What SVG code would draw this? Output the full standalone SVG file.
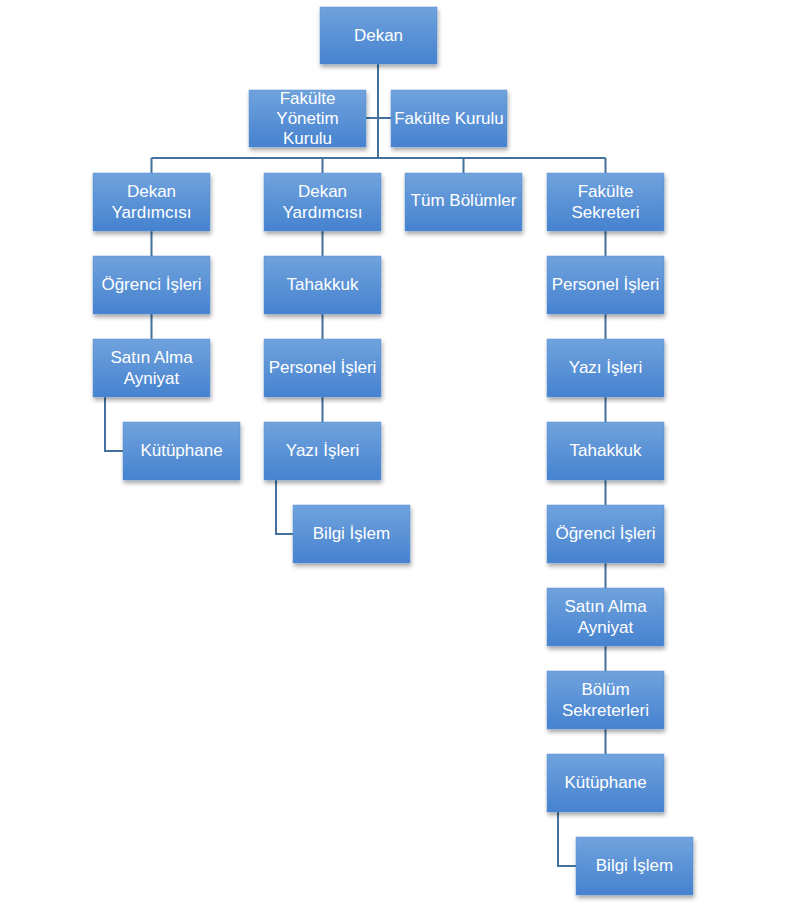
<svg xmlns="http://www.w3.org/2000/svg" width="795" height="907" viewBox="0 0 795 907">
<defs>
<linearGradient id="g" x1="0" y1="0" x2="0" y2="1">
<stop offset="0" stop-color="#70a3dd"/>
<stop offset="1" stop-color="#4682cf"/>
</linearGradient>
<filter id="sh" x="-10%" y="-10%" width="125%" height="135%">
<feDropShadow dx="1" dy="3" stdDeviation="2" flood-color="#000" flood-opacity="0.35"/>
</filter>
</defs>
<style>
.b{fill:url(#g);stroke:#5b8fd2;stroke-width:0.5;filter:url(#sh)}
.t{fill:#fff;font-family:"Liberation Sans",Arial,sans-serif;font-size:17px;text-anchor:middle}
.c{fill:none;stroke:#41719c;stroke-width:2}
</style>
<rect width="795" height="907" fill="#fff"/>
<g id="connectors">
<path class="c" d="M378 64V158M151.5 158H605.5M366 118H391"/>
<path class="c" d="M151.5 158V339M322.5 158V422M463.5 158V173M605.5 158V754"/>
<path class="c" d="M105 397V451H123M276 480V534H293M558 812V866H576"/>
</g>
<g id="dekan"><rect class="b" x="320" y="7" width="117" height="57"/><text class="t" x="378.5" y="41">Dekan</text></g>
<g id="fyk"><rect class="b" x="249" y="90" width="117" height="57"/><text class="t" x="307.5" y="104">Fakülte</text><text class="t" x="307.5" y="124">Yönetim</text><text class="t" x="307.5" y="144">Kurulu</text></g>
<g id="fk"><rect class="b" x="391" y="90" width="116" height="57"/><text class="t" x="449" y="124">Fakülte Kurulu</text></g>

<g id="dy1"><rect class="b" x="93" y="173" width="117" height="58"/><text class="t" x="151.5" y="197">Dekan</text><text class="t" x="151.5" y="218">Yardımcısı</text></g>
<g id="oi1"><rect class="b" x="93" y="256" width="117" height="58"/><text class="t" x="151.5" y="289.5">Öğrenci İşleri</text></g>
<g id="sa1"><rect class="b" x="93" y="339" width="117" height="58"/><text class="t" x="151.5" y="363">Satın Alma</text><text class="t" x="151.5" y="384">Ayniyat</text></g>
<g id="ku1"><rect class="b" x="123" y="422" width="117" height="58"/><text class="t" x="181.5" y="455.5">Kütüphane</text></g>

<g id="dy2"><rect class="b" x="264" y="173" width="117" height="58"/><text class="t" x="322.5" y="197">Dekan</text><text class="t" x="322.5" y="218">Yardımcısı</text></g>
<g id="ta2"><rect class="b" x="264" y="256" width="117" height="58"/><text class="t" x="322.5" y="289.5">Tahakkuk</text></g>
<g id="pi2"><rect class="b" x="264" y="339" width="117" height="58"/><text class="t" x="322.5" y="372.5">Personel İşleri</text></g>
<g id="yi2"><rect class="b" x="264" y="422" width="117" height="58"/><text class="t" x="322.5" y="455.5">Yazı İşleri</text></g>
<g id="bi2"><rect class="b" x="293" y="505" width="117" height="58"/><text class="t" x="351.5" y="538.5">Bilgi İşlem</text></g>

<g id="tb"><rect class="b" x="405" y="173" width="117" height="58"/><text class="t" x="463.5" y="206">Tüm Bölümler</text></g>

<g id="fs"><rect class="b" x="547" y="173" width="117" height="58"/><text class="t" x="605.5" y="197">Fakülte</text><text class="t" x="605.5" y="218">Sekreteri</text></g>
<g id="pi4"><rect class="b" x="547" y="256" width="117" height="58"/><text class="t" x="605.5" y="289.5">Personel İşleri</text></g>
<g id="yi4"><rect class="b" x="547" y="339" width="117" height="58"/><text class="t" x="605.5" y="372.5">Yazı İşleri</text></g>
<g id="ta4"><rect class="b" x="547" y="422" width="117" height="58"/><text class="t" x="605.5" y="455.5">Tahakkuk</text></g>
<g id="oi4"><rect class="b" x="547" y="505" width="117" height="58"/><text class="t" x="605.5" y="538.5">Öğrenci İşleri</text></g>
<g id="sa4"><rect class="b" x="547" y="588" width="117" height="58"/><text class="t" x="605.5" y="612">Satın Alma</text><text class="t" x="605.5" y="633">Ayniyat</text></g>
<g id="bs4"><rect class="b" x="547" y="671" width="117" height="58"/><text class="t" x="605.5" y="695">Bölüm</text><text class="t" x="605.5" y="716">Sekreterleri</text></g>
<g id="ku4"><rect class="b" x="547" y="754" width="117" height="58"/><text class="t" x="605.5" y="787.5">Kütüphane</text></g>
<g id="bi4"><rect class="b" x="576" y="837" width="117" height="58"/><text class="t" x="634.5" y="870.5">Bilgi İşlem</text></g>
</svg>
